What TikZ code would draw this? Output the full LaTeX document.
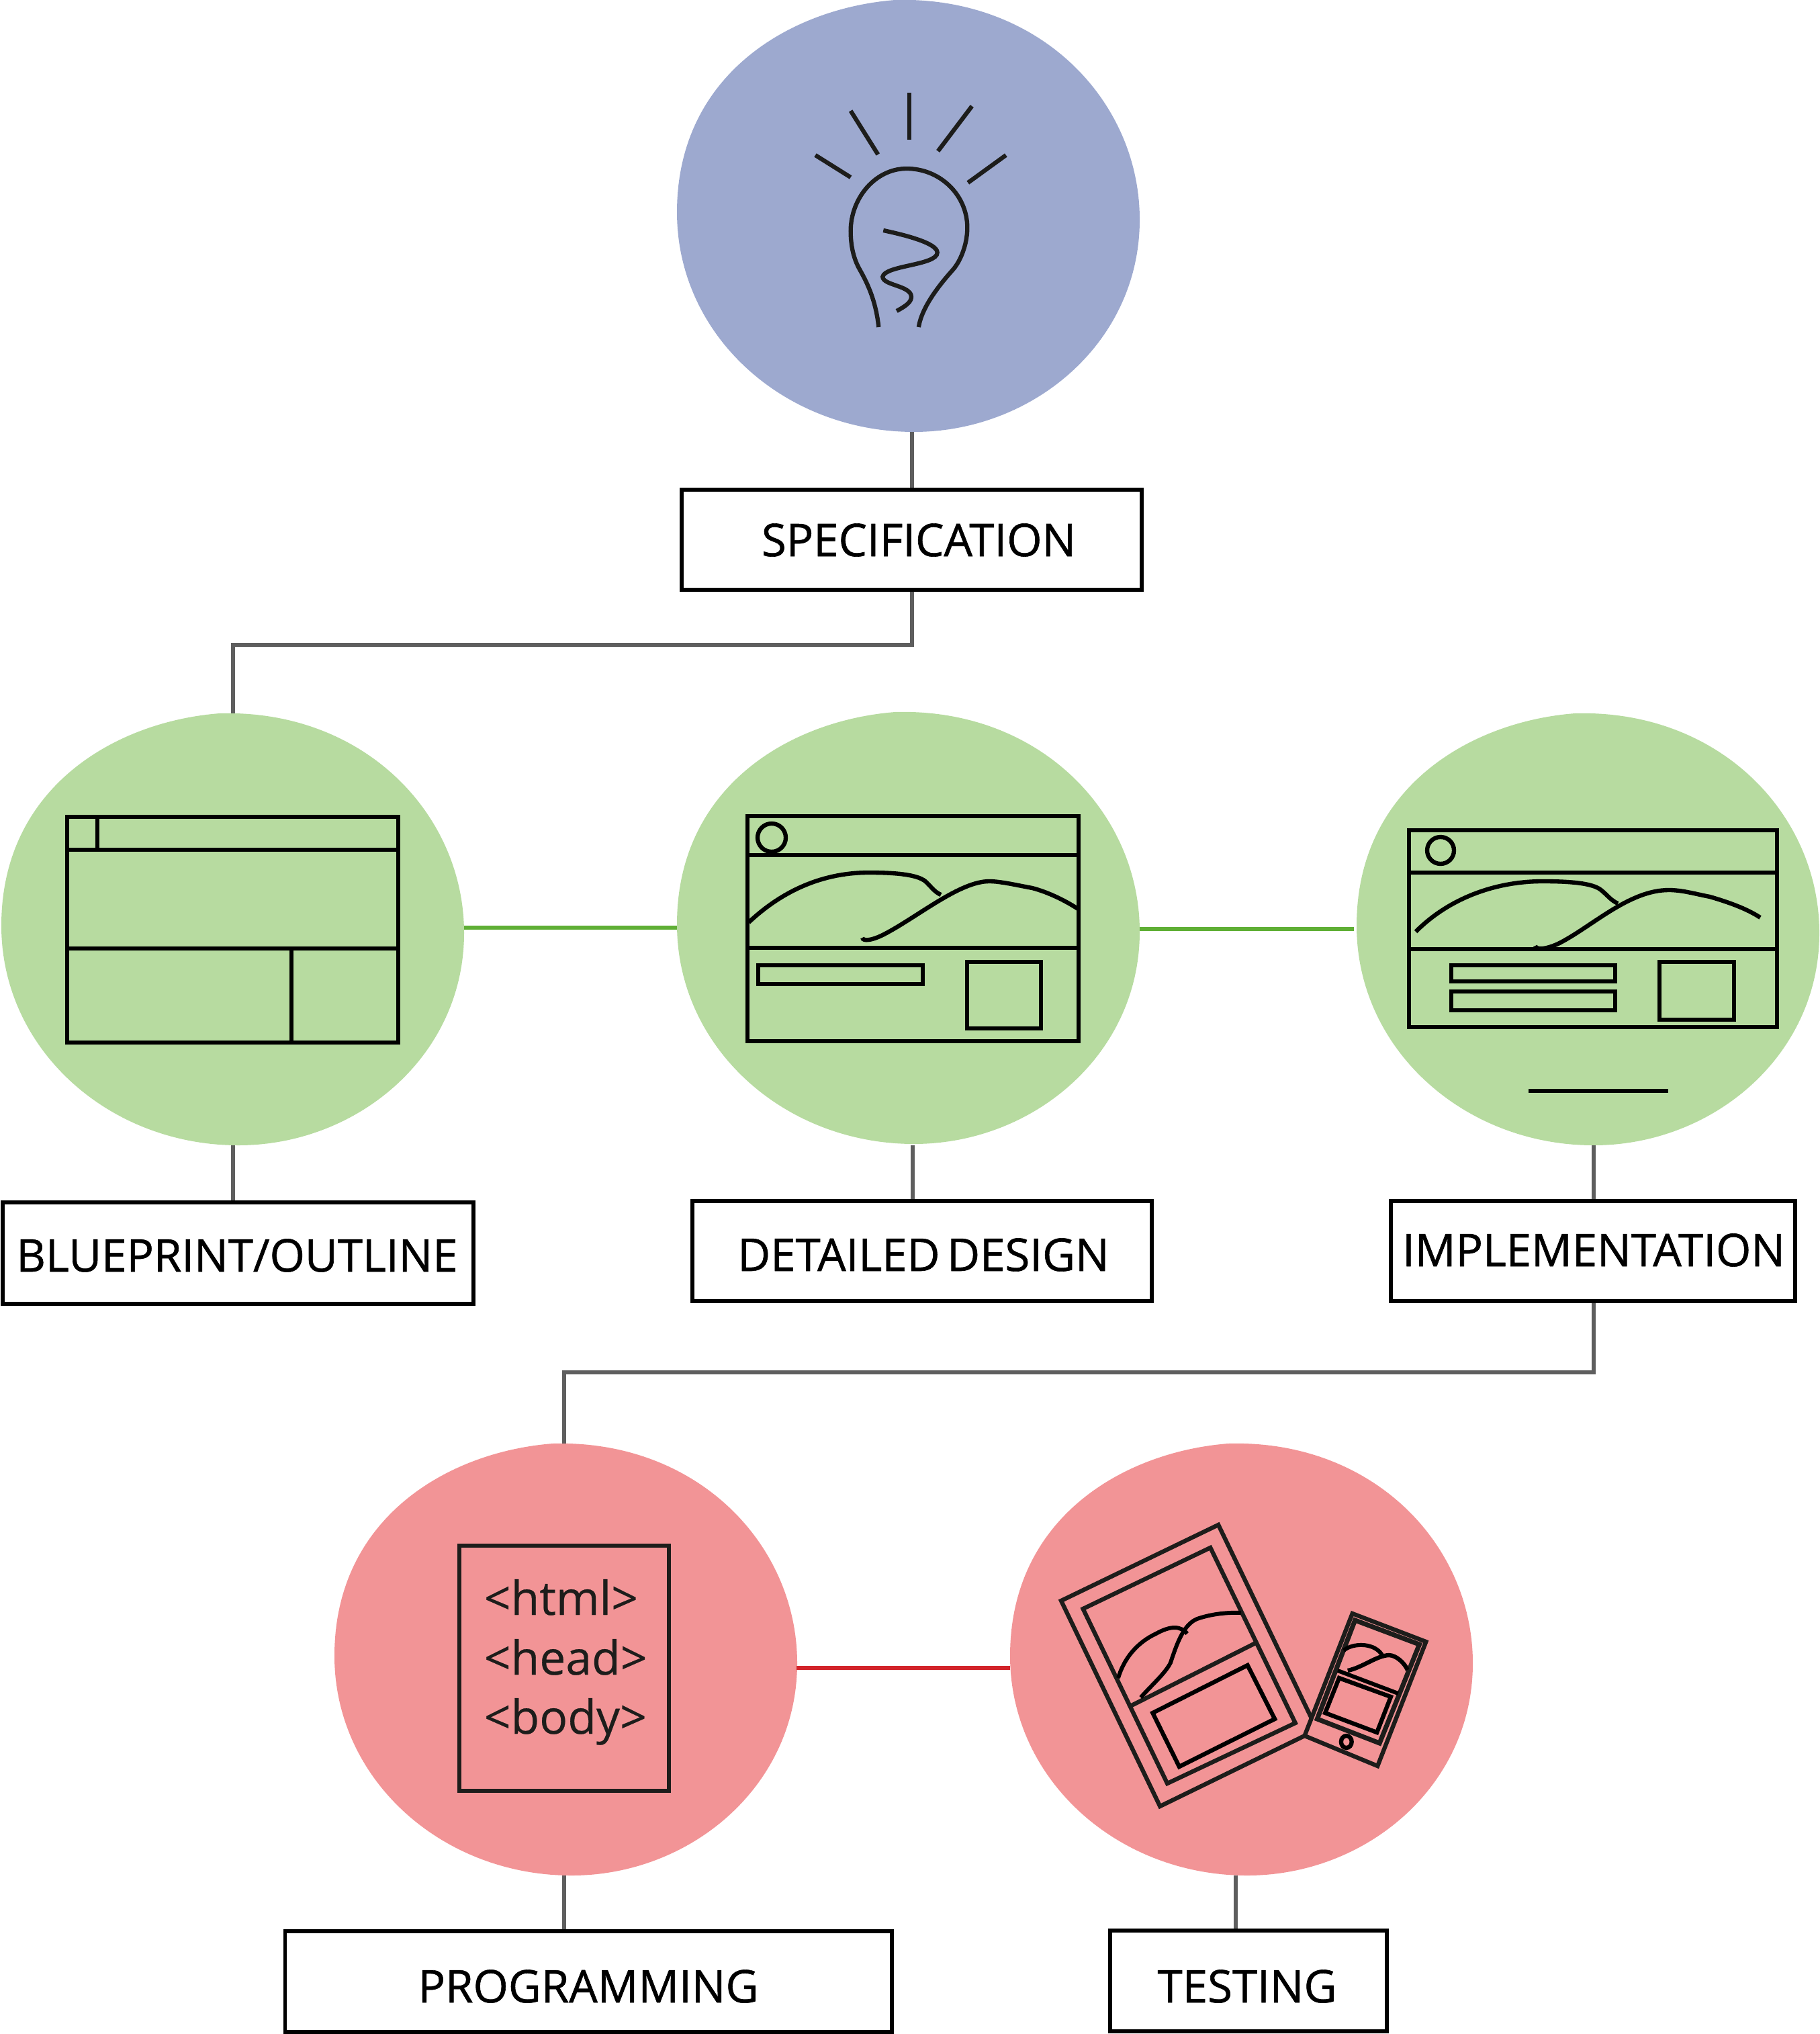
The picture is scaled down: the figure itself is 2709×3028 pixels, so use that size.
\documentclass[tikz,border=0pt]{standalone}
\usepackage{fontspec}
\setmainfont{Open Sans}
\newfontfamily\labelfont[FakeBold=0.9]{Open Sans}
\newfontfamily\codefont[FakeBold=0.4]{Open Sans}
\definecolor{blobblue}{HTML}{9DA9CF}
\definecolor{blobgreen}{HTML}{B7DBA0}
\definecolor{blobred}{HTML}{F29496}
\definecolor{conngray}{HTML}{5E5E5E}
\definecolor{conngreen}{HTML}{5FAF35}
\definecolor{connred}{HTML}{D2232A}
\definecolor{inkdark}{HTML}{1D1D1B}
\tikzset{
  labelbox/.style={draw=black,line width=1.7pt,fill=white,inner sep=0pt,rectangle},
  labeltext/.style={anchor=base,inner sep=0pt,font=\labelfont\fontsize{19.1}{22}\selectfont,text=black},
  codetext/.style={anchor=base west,inner sep=0pt,font=\codefont\fontsize{19.8}{23}\selectfont,text=inkdark},
  grayconn/.style={draw=conngray,line width=1.5pt},
  greenconn/.style={draw=conngreen,line width=1.5pt},
  redconn/.style={draw=connred,line width=1.5pt},
  icon/.style={draw=black,line width=1.8pt},
  iconthin/.style={draw=black,line width=1.7pt},
  icondark/.style={draw=inkdark,line width=1.8pt},
}
\newcommand{\blobshape}[3]{%
  \path[fill=#1,shift={(#2,#3)}] (0,316) .. controls (0,110) and (170,12) .. (325,0)
    .. controls (540,-6) and (689,150) .. (689,327)
    .. controls (689,510) and (530,643) .. (353,643)
    .. controls (160,643) and (0,500) .. (0,316) -- cycle;}
\begin{document}
\begin{tikzpicture}[x=0.01cm,y=-0.01cm]
\useasboundingbox (0,0) rectangle (2709,3028);

% blobs
\blobshape{blobblue}{1008}{0}
\blobshape{blobgreen}{2}{1062}
\blobshape{blobgreen}{1008}{1060}
\blobshape{blobgreen}{2020}{1062}
\blobshape{blobred}{498}{2149}
\blobshape{blobred}{1504}{2149}

% anchor coordinates on the blobs
\coordinate (specb) at (1358,643);
\coordinate (bluet) at (347,1062);
\coordinate (blueb) at (347,1705);
\coordinate (bluer) at (691,1381);
\coordinate (detl) at (1008,1381);
\coordinate (detb) at (1359,1705);
\coordinate (detr) at (1697,1383);
\coordinate (impl) at (2016,1383);
\coordinate (impb) at (2373,1705);
\coordinate (progt) at (840,2149);
\coordinate (progb) at (840,2792);
\coordinate (progr) at (1186,2483);
\coordinate (testl) at (1504,2483);
\coordinate (testb) at (1840,2792);

% label boxes
\node[labelbox,minimum width=685*0.01cm,minimum height=149*0.01cm] (spec) at (1357.5,803.5) {};
\node[labelbox,minimum width=701*0.01cm,minimum height=151*0.01cm] (blue) at (354.5,1865.5) {};
\node[labelbox,minimum width=684*0.01cm,minimum height=149*0.01cm] (det) at (1373,1862.5) {};
\node[labelbox,minimum width=602*0.01cm,minimum height=149*0.01cm] (imp) at (2371.5,1862.5) {};
\node[labelbox,minimum width=903*0.01cm,minimum height=150*0.01cm] (prog) at (876,2950) {};
\node[labelbox,minimum width=412*0.01cm,minimum height=150*0.01cm] (test) at (1859,2949) {};

\node[labeltext] (spect) at (1368,828) {SPECIFICATION};
\node[labeltext] (bluetx) at (353,1893) {BLUEPRINT/OUTLINE};
\node[labeltext] (dett) at (1375,1892) {DETAILED\hspace{-0.1em} DESIGN};
\node[labeltext] (impt) at (2373,1885) {IMPLEMENTATION};
\node[labeltext] (progtx) at (876,2981) {PROGRAMMING};
\node[labeltext] (testtx) at (1857,2981) {TESTING};

% connectors
\draw[grayconn] (specb) -- (spec.north -| specb);
\coordinate (s1) at (spec.south -| specb);
\draw[grayconn] (s1) -- (1358,960) -| (bluet);
\draw[grayconn] (blueb) -- (blue.north -| blueb);
\draw[grayconn] (detb) -- (det.north -| detb);
\draw[grayconn] (impb) -- (imp.north -| impb);
\coordinate (s2) at (imp.south -| impb);
\draw[grayconn] (s2) -- (2373,2043) -| (progt);
\draw[grayconn] (progb) -- (prog.north -| progb);
\draw[grayconn] (testb) -- (test.north -| testb);
\draw[greenconn] (bluer) -- (detl);
\draw[greenconn] (detr) -- (impl);
\draw[redconn] (progr) -- (testl);

% light bulb
\begin{scope}[x=0.009917cm,xshift=0.083cm]
\draw[icondark] (1356,138) -- (1356,208);
\draw[icondark] (1268,165) -- (1309,230);
\draw[icondark] (1215,231) -- (1268,264);
\draw[icondark] (1450,158) -- (1399,225);
\draw[icondark] (1501,231) -- (1444,272);
\draw[icondark] (1310,487) .. controls (1306,450) and (1295,425) .. (1282,402)
  .. controls (1272,385) and (1268,365) .. (1268,344)
  .. controls (1268,295) and (1305,251) .. (1352,251)
  .. controls (1402,251) and (1443,290) .. (1443,339)
  .. controls (1443,365) and (1432,390) .. (1421,402)
  .. controls (1405,420) and (1375,455) .. (1370,487);
\draw[icondark] (1317,343) .. controls (1350,350) and (1398,362) .. (1398,376)
  .. controls (1398,395) and (1319,395) .. (1316,412)
  .. controls (1316,425) and (1359,425) .. (1359,442)
  .. controls (1359,450) and (1350,456) .. (1337,463);
\end{scope}

% blueprint wireframe
\draw[icon] (100,1216) rectangle (593,1552);
\draw[icon] (100,1265) -- (593,1265);
\draw[icon] (145,1216) -- (145,1265);
\draw[icon] (100,1412) -- (593,1412);
\draw[icon] (434,1412) -- (434,1552);

% detailed design wireframe
\draw[icon] (1113,1215) rectangle (1606,1550);
\draw[icon] (1113,1273) -- (1606,1273);
\draw[icon] (1113,1411) -- (1606,1411);
\draw[icon] (1149,1247) circle (21);
\draw[icon] (1129,1437) rectangle (1374,1465);
\draw[icon] (1440,1432) rectangle (1550,1531);
\draw[icon] (1115,1373) .. controls (1165,1326) and (1225,1299) .. (1294,1299)
  .. controls (1340,1299) and (1370,1303) .. (1380,1314)
  .. controls (1388,1322) and (1392,1328) .. (1401,1332);
\draw[icon] (1284,1396) .. controls (1285,1402) and (1300,1400) .. (1320,1389)
  .. controls (1370,1362) and (1430,1312) .. (1473,1312)
  .. controls (1490,1312) and (1515,1318) .. (1537,1322)
  .. controls (1560,1328) and (1585,1340) .. (1605,1353);

% implementation wireframe
\draw[icon] (2098,1236) rectangle (2646,1529);
\draw[icon] (2098,1299) -- (2646,1299);
\draw[icon] (2098,1413) -- (2646,1413);
\draw[icon] (2145,1266) circle (20);
\draw[icon] (2161,1437) rectangle (2405,1461);
\draw[icon] (2161,1476) rectangle (2405,1504);
\draw[icon] (2471,1432) rectangle (2582,1518);
\draw[icon] (2276,1624) -- (2484,1624);
\draw[icon] (2108,1387) .. controls (2160,1335) and (2230,1312) .. (2297,1312)
  .. controls (2340,1312) and (2372,1315) .. (2384,1325)
  .. controls (2394,1333) and (2398,1340) .. (2409,1345);
\draw[icon] (2286,1408) .. controls (2287,1414) and (2300,1414) .. (2320,1405)
  .. controls (2370,1380) and (2425,1325) .. (2485,1325)
  .. controls (2505,1325) and (2525,1331) .. (2546,1335)
  .. controls (2570,1342) and (2600,1352) .. (2621,1366);

% code page
\draw[icondark] (684,2301) rectangle (996,2666);
\node[codetext] (html) at (720,2404) {<html>};
\node[codetext] (head) at (720,2493) {<head>};
\node[codetext] (body) at (720,2581) {<body>};

\begin{scope}[x=0.009871cm,xshift=0.1935cm]
% tablet
\draw[icondark] (1957,2557) -- (1817,2270) -- (1580,2383) -- (1729,2689) -- (1947,2584);
\draw[icondark] (1613,2395) -- (1805,2304) -- (1933,2565) -- (1740,2655) -- cycle;
\draw[icondark] (1686,2539) -- (1873,2446);
\draw[icon] (1718,2550) -- (1861,2479) -- (1902,2559) -- (1758,2630) -- cycle;
\draw[iconthin] (1666,2498) .. controls (1675,2468) and (1695,2445) .. (1723,2432)
  .. controls (1745,2420) and (1760,2420) .. (1770,2432);
\draw[iconthin] (1700,2527) .. controls (1715,2510) and (1738,2490) .. (1745,2475)
  .. controls (1755,2445) and (1765,2418) .. (1785,2410)
  .. controls (1805,2403) and (1830,2400) .. (1851,2401);
% phone
\draw[icondark] (1947,2584) -- (2019,2402) -- (2130,2444) -- (2057,2629) -- cycle;
\draw[icondark,line width=2pt] (2023,2412) -- (2120,2448) -- (2060,2595) -- (1966,2559) -- cycle;
\draw[iconthin] (1997,2487) -- (2088,2521);
\draw[icon] (1999,2498) -- (2077,2526) -- (2056,2579) -- (1978,2550) -- cycle;
\draw[icon] (2010,2593) ellipse (8 and 9);
\draw[iconthin] (2006,2457) .. controls (2020,2445) and (2055,2445) .. (2065,2466);
\draw[icon] (2012,2487) .. controls (2035,2482) and (2055,2465) .. (2074,2464)
  .. controls (2085,2464) and (2098,2476) .. (2102,2486);
\end{scope}
\end{tikzpicture}
\end{document}
